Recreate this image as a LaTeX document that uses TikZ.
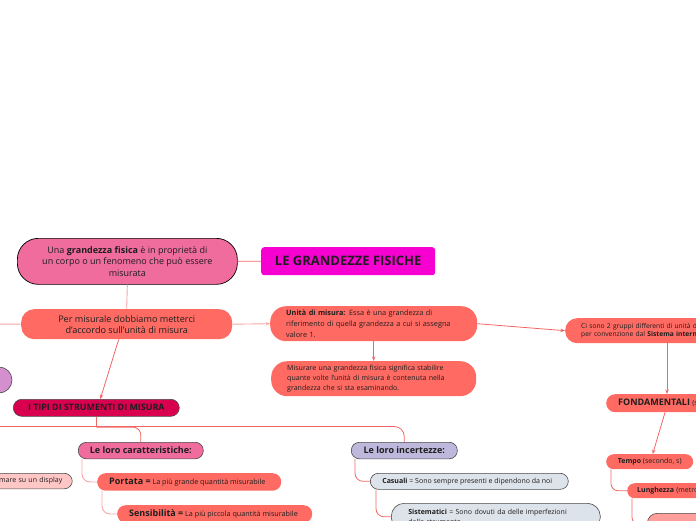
\documentclass[tikz,border=0pt]{standalone}
\usepackage{fontspec}
\setmainfont{Open Sans}
\usetikzlibrary{calc,arrows.meta}
\definecolor{pinkA}{HTML}{F06C9C}
\definecolor{magA}{HTML}{F700D2}
\definecolor{coral}{HTML}{FF6B63}
\definecolor{crim}{HTML}{DA0050}
\definecolor{lav}{HTML}{BDB8DC}
\definecolor{greyb}{HTML}{DDE3EA}
\definecolor{lpink}{HTML}{FFC6C6}
\definecolor{orch}{HTML}{D490CE}
\definecolor{salm}{HTML}{FF9E9A}
\definecolor{lineA}{HTML}{F26666}
\definecolor{lineB}{HTML}{F8A5A5}
\definecolor{txt}{HTML}{1E1E1E}
\definecolor{bord}{HTML}{4A4A4A}
\newcommand\myfs[2]{\fontsize{#1}{#2}\selectfont}
\newcommand\lftbox[2]{\makebox[#1][l]{#2}}
\tikzset{
 nd/.style={anchor=north west, inner sep=0pt, text=txt},
 bd/.style={draw=bord, line width=0.6pt},
 conn/.style={draw=lineA, line width=0.8pt},
 connL/.style={draw=lineB, line width=0.9pt},
 arr/.style={-{Stealth[length=4.5pt,width=3.5pt]}},
}
\begin{document}
\begin{tikzpicture}[x=1pt,y=-1pt]
\useasboundingbox (0,0) rectangle (696,520);
\clip (0,0) rectangle (696,520);

% top level
\node[nd, fill=pinkA, draw=black, line width=0.7pt, rounded corners=21pt,
  minimum width=220pt, minimum height=46pt, align=center, font=\myfs{9}{11.5}] (n1) at (17,238)
  {Una \textbf{grandezza fisica} è in proprietà di\\un corpo o un fenomeno che può essere\\misurata};
\node[nd, fill=magA, rounded corners=3pt, minimum width=174pt, minimum height=28pt,
  font=\myfs{13}{15}\bfseries] (le) at (261,247) {LE GRANDEZZE FISICHE};
\node[nd, fill=coral, rounded corners=13pt, minimum width=211pt, minimum height=30pt,
  align=center, font=\myfs{9.1}{11}] (n3) at (21,309)
  {Per misurale dobbiamo metterci\\d'accordo sull'unità di misura};
\node[nd, fill=coral, rounded corners=16pt, text width=175pt, inner xsep=16pt, minimum height=35pt,
  align=left, font=\myfs{7.3}{10.8}] (n4) at (270,306)
  {\textbf{Unità di misura:} Essa è una grandezza di\\riferimento di quella grandezza a cui si assegna\\valore 1.};
\node[nd, fill=coral, rounded corners=16pt, text width=173pt, inner xsep=16pt, minimum height=35pt,
  align=left, font=\myfs{7.05}{10}] (n5) at (271,361)
  {Misurare una grandezza fisica significa stabilire\\quante volte l'unità di misura è contenuta nella\\grandezza che si sta esaminando.};
\node[nd, fill=coral, rounded corners=12pt, text width=220pt, inner xsep=16pt, minimum height=25pt,
  align=left, font=\myfs{6.7}{8.5}] (n6) at (565,318)
  {Ci sono 2 gruppi differenti di unità di misura\\per convenzione dal \textbf{Sistema internazionale}};
\node[nd, fill=coral, rounded corners=9pt, text width=110pt, inner xsep=12pt, minimum height=18pt,
  align=left, font=\myfs{7}{8}] (fond) at (606,394)
  {{\myfs{9}{10}\bfseries FONDAMENTALI} (sono 7)};
\node[nd, fill=coral, rounded corners=7.5pt, minimum width=87pt, minimum height=15pt,
  font=\myfs{7}{8}] (tempo) at (606,454) {\textbf{Tempo} (secondo, s)};
\node[nd, fill=coral, rounded corners=7.5pt, text width=90pt, inner xsep=10pt, minimum height=15pt,
  align=left, font=\myfs{7}{8}] (lung) at (627,483) {\textbf{Lunghezza} (metro, m)};
\node[nd, fill=salm, bd, rounded corners=10pt, text width=90pt, inner xsep=15pt, minimum height=22pt,
  align=left, font=\myfs{7}{8}] (bot) at (647,513) {Un metro};

% left side
\node[circle, fill=orch, bd, minimum size=26pt, inner sep=0pt] (circ) at (-1,380) {};
\node[nd, fill=crim, bd, rounded corners=8.5pt, minimum width=166pt, minimum height=17pt,
  font=\myfs{8.9}{10}\bfseries] (tipi) at (13,399) {I TIPI DI STRUMENTI DI MISURA};
\node[nd, fill=pinkA, bd, rounded corners=8pt, minimum width=125pt, minimum height=16.5pt,
  font=\myfs{9}{10}\bfseries] (carat) at (78,442) {Le loro caratteristiche:};
\node[nd, fill=lav, bd, rounded corners=8pt, minimum width=106pt, minimum height=16.5pt,
  font=\myfs{9}{10}\bfseries] (incert) at (351,442) {Le loro incertezze:};
\node[nd, fill=lpink, bd, rounded corners=8pt, text width=112pt, inner xsep=10pt, minimum height=15.5pt,
  align=right, font=\myfs{7}{8}] (disp) at (-60,473) {mare su un display};
\node[nd, fill=coral, rounded corners=8.5pt, inner xsep=12pt, minimum height=17.5pt,
  font=\myfs{7.2}{8}] (port) at (97,473)
  {\lftbox{160pt}{{\myfs{9}{10}\bfseries Portata =} La più grande quantità misurabile}};
\node[nd, fill=coral, rounded corners=8.5pt, inner xsep=12pt, minimum height=17.5pt,
  font=\myfs{7.2}{8}] (sens) at (117,505)
  {\lftbox{171pt}{{\myfs{9}{10}\bfseries Sensibilità =} La più piccola quantità misurabile}};
\node[nd, fill=greyb, bd, rounded corners=8pt, inner xsep=12pt, minimum height=16pt,
  font=\myfs{7}{8}] (cas) at (370,473)
  {\lftbox{174pt}{\textbf{Casuali} = Sono sempre presenti e dipendono da noi}};
\node[nd, fill=greyb, bd, rounded corners=13pt, text width=175pt, inner xsep=17pt, minimum height=27pt,
  align=left, font=\myfs{7}{10}] (sist) at (391,503)
  {\textbf{Sistematici} = Sono dovuti da delle imperfezioni\\dello strumento};

% connectors
\coordinate (offL) at (-5,324);
\coordinate (barL) at (-5,426.5);
\draw[conn] (n1.east) -- (le.west);
\draw[connL] (n1.south) -- (n3.north);
\draw[connL] (n3.west) -- (offL);
\draw[connL, arr] (n3.east) -- (n4.west);
\draw[conn, arr] (n4.south) -- (n5.north);
\draw[conn, arr] (n4.east) -- (n6.west);
\draw[conn, arr] ($(n6.south west)+(102,0)$) -- ($(fond.north west)+(61,0)$);
\draw[conn, arr] ($(fond.south west)+(59,0)$) -- ($(tempo.north)+(3,0)$);
\draw[conn, rounded corners=7pt] ($(tempo.south west)+(5,0)$) |- (lung.west);
\draw[conn, rounded corners=7pt] ($(lung.south west)+(5,0)$) |- (bot.west);
\draw[conn, arr] ($(n3.south)+(-8,0)$) -- ($(tipi.north)+(4,0)$);
\coordinate (bar) at ($(tipi.south)+(0,10.5)$);
\draw[conn] (tipi.south) -- (bar);
\draw[conn, rounded corners=10pt] (barL) -| (incert.north);
\draw[conn, rounded corners=8pt] (bar) -| (carat.north);
\draw[connL, rounded corners=8pt] ($(carat.south west)+(4,0)$) |- (port.west);
\draw[connL, rounded corners=8pt] ($(port.south west)+(5,0)$) |- (sens.west);
\draw[conn, rounded corners=8pt] ($(incert.south west)+(4,0)$) |- (cas.west);
\draw[conn, rounded corners=8pt] ($(cas.south west)+(6,0)$) |- (sist.west);
\end{tikzpicture}
\end{document}
